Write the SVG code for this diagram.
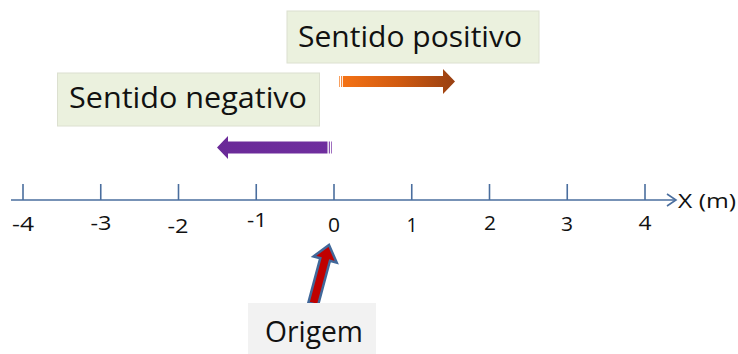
<svg xmlns="http://www.w3.org/2000/svg" width="738" height="354" viewBox="0 0 738 354">
<defs>
<linearGradient id="gOrange" x1="0" y1="0" x2="1" y2="0">
<stop offset="0" stop-color="#F47215"/>
<stop offset="0.5" stop-color="#D05A10"/>
<stop offset="1" stop-color="#984012"/>
</linearGradient>
<linearGradient id="gPurple" x1="0" y1="0" x2="1" y2="0">
<stop offset="0" stop-color="#6A2A98"/>
<stop offset="1" stop-color="#6F2E9E"/>
</linearGradient>
<style>
.box{fill:#EBF1DE;stroke:#DCE0D0;stroke-width:1}
.gbox{fill:#F2F2F2}
.big{font-family:"Open Sans","Noto Sans","Liberation Sans",sans-serif;font-size:29px;fill:#111}
.num{font-family:"Open Sans","Noto Sans","Liberation Sans",sans-serif;font-size:20px;fill:#111;text-anchor:middle}
.axis{stroke:#4A6E9E;stroke-width:1.6;fill:none}
</style>
</defs>
<rect width="738" height="354" fill="#FFFFFF"/>

<g id="connectors">
<g id="axis">
<line class="axis" x1="11" y1="200" x2="675" y2="200"/>
<polyline class="axis" points="667,194 676,200 667,206"/>
<line class="axis" x1="23" y1="184" x2="23" y2="200"/>
<line class="axis" x1="100.75" y1="184" x2="100.75" y2="200"/>
<line class="axis" x1="178.5" y1="184" x2="178.5" y2="200"/>
<line class="axis" x1="256.25" y1="184" x2="256.25" y2="200"/>
<line class="axis" x1="334" y1="184" x2="334" y2="200"/>
<line class="axis" x1="411.75" y1="184" x2="411.75" y2="200"/>
<line class="axis" x1="489.5" y1="184" x2="489.5" y2="200"/>
<line class="axis" x1="567.25" y1="184" x2="567.25" y2="200"/>
<line class="axis" x1="645" y1="184" x2="645" y2="200"/>
</g>
<g id="arrow-positivo">
<rect x="339" y="76" width="1" height="11" fill="#F8A060"/>
<rect x="341" y="76" width="1.2" height="11" fill="#F48A40"/>
<path d="M343,76 H443 V69 L455,81.5 L443,94 V87 H343 Z" fill="url(#gOrange)"/>
</g>
<g id="arrow-negativo">
<rect x="331" y="141.5" width="1" height="12" fill="#A070C0"/>
<rect x="328.8" y="141.5" width="1.2" height="12" fill="#8A50B0"/>
<path d="M327.5,141.5 H228 V136 L217,147.5 L228,159 V153.5 H327.5 Z" fill="url(#gPurple)"/>
</g>
<g id="arrow-origem">
<path transform="translate(329,245) rotate(15)" d="M0,0 L12,15 L5,15 L5,61 L-5,61 L-5,15 L-12,15 Z" fill="#C00000" stroke="#41689A" stroke-width="2.5" stroke-linejoin="miter"/>
</g>
</g>

<g id="labels">
<text class="num" x="23" y="231" textLength="22" lengthAdjust="spacingAndGlyphs">-4</text>
<text class="num" x="101" y="230" textLength="21" lengthAdjust="spacingAndGlyphs">-3</text>
<text class="num" x="178" y="233" textLength="21" lengthAdjust="spacingAndGlyphs">-2</text>
<text class="num" x="257" y="227" textLength="20" lengthAdjust="spacingAndGlyphs">-1</text>
<text class="num" x="334" y="232" textLength="12" lengthAdjust="spacingAndGlyphs">0</text>
<text class="num" x="412" y="232" textLength="11" lengthAdjust="spacingAndGlyphs">1</text>
<text class="num" x="490" y="230" textLength="12" lengthAdjust="spacingAndGlyphs">2</text>
<text class="num" x="567" y="231" textLength="12" lengthAdjust="spacingAndGlyphs">3</text>
<text class="num" x="645" y="230" textLength="13" lengthAdjust="spacingAndGlyphs">4</text>
<text x="678" y="208" font-family="Open Sans, Noto Sans, Liberation Sans, sans-serif" font-size="20" fill="#111" textLength="58" lengthAdjust="spacingAndGlyphs">X (m)</text>
</g>

<g id="node-positivo">
<rect class="box" x="287" y="11" width="252" height="52"/>
<text class="big" x="298" y="47" textLength="224" lengthAdjust="spacingAndGlyphs">Sentido positivo</text>
</g>

<g id="node-negativo">
<rect class="box" x="57.5" y="73" width="262" height="53"/>
<text class="big" x="69" y="108" textLength="238" lengthAdjust="spacingAndGlyphs">Sentido negativo</text>
</g>

<g id="node-origem">
<rect class="gbox" x="248" y="303" width="128" height="51"/>
<text class="big" x="265" y="342" font-size="29" textLength="98" lengthAdjust="spacingAndGlyphs">Origem</text>
</g>
</svg>
